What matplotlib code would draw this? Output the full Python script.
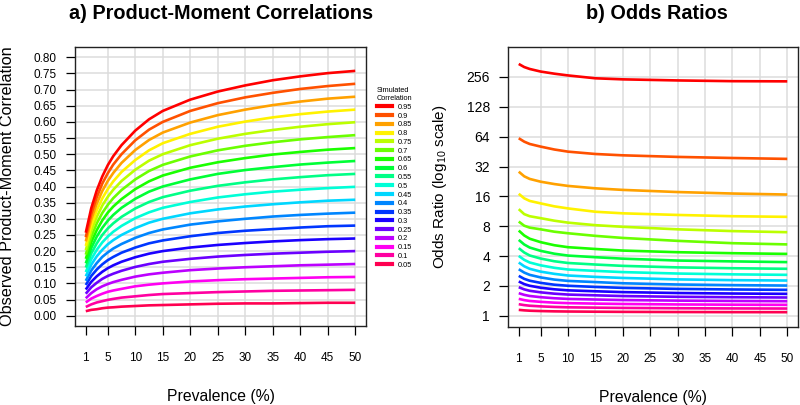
import matplotlib
matplotlib.use("Agg")
import matplotlib.pyplot as plt
from matplotlib.lines import Line2D
import colorsys

plt.rcParams['font.family'] = ['Liberation Sans', 'DejaVu Sans']
plt.rcParams['mathtext.fontset'] = 'custom'
plt.rcParams['mathtext.rm'] = 'Liberation Sans'
plt.rcParams['mathtext.default'] = 'regular'

# simulated (latent) correlations, top to bottom
sim_labels = ['0.95', '0.9', '0.85', '0.8', '0.75', '0.7', '0.65', '0.6', '0.55', '0.5',
              '0.45', '0.4', '0.35', '0.3', '0.25', '0.2', '0.15', '0.1', '0.05']

# panel a: observed product-moment correlation by prevalence
prev_r = [1, 2, 3, 4, 5, 6, 7.5, 10, 12.5, 15, 20, 25, 30, 35, 40, 45, 50]
obs_r = [
    [.257, .333, .388, .431, .466, .494, .528, .573, .608, .634, .669, .694, .713, .729, .741, .751, .758],
    [.243, .315, .367, .409, .441, .468, .500, .543, .576, .600, .634, .658, .676, .690, .702, .711, .718],
    [.230, .298, .347, .386, .417, .442, .473, .513, .544, .567, .598, .621, .638, .652, .663, .672, .678],
    [.216, .280, .326, .363, .392, .416, .445, .482, .512, .534, .563, .585, .601, .614, .624, .632, .638],
    [.203, .263, .306, .341, .368, .390, .417, .452, .480, .500, .528, .548, .563, .575, .585, .593, .599],
    [.189, .245, .286, .318, .343, .364, .389, .422, .448, .467, .493, .512, .526, .537, .546, .553, .559],
    [.176, .228, .265, .295, .319, .338, .361, .392, .416, .434, .458, .475, .488, .499, .507, .514, .519],
    [.162, .210, .245, .272, .294, .312, .334, .362, .384, .400, .422, .439, .451, .460, .468, .474, .479],
    [.149, .193, .224, .250, .270, .286, .306, .332, .352, .367, .387, .402, .413, .422, .429, .435, .439],
    [.135, .175, .204, .227, .245, .260, .278, .302, .320, .334, .352, .366, .376, .384, .390, .395, .399],
    [.122, .158, .184, .204, .221, .234, .250, .271, .288, .300, .317, .329, .338, .345, .351, .356, .359],
    [.108, .140, .163, .182, .196, .208, .222, .241, .256, .267, .282, .292, .300, .307, .312, .316, .319],
    [.095, .123, .143, .159, .172, .182, .195, .211, .224, .233, .246, .256, .263, .268, .273, .277, .279],
    [.081, .105, .122, .136, .147, .156, .167, .181, .192, .200, .211, .219, .225, .230, .234, .237, .239],
    [.068, .088, .102, .114, .123, .130, .139, .151, .160, .167, .176, .183, .188, .192, .195, .198, .200],
    [.054, .070, .082, .091, .098, .104, .111, .121, .128, .133, .141, .146, .150, .153, .156, .158, .160],
    [.041, .053, .061, .068, .074, .078, .083, .091, .096, .100, .106, .110, .113, .115, .117, .119, .120],
    [.027, .035, .041, .045, .049, .052, .056, .060, .064, .067, .070, .073, .075, .077, .078, .079, .080],
    [.014, .018, .020, .023, .025, .026, .028, .030, .032, .033, .035, .037, .038, .038, .039, .040, .040],
]

# panel b: odds ratios by prevalence
prev_or = [1, 2, 3, 5, 7.5, 10, 15, 20, 30, 40, 50]
odds = [
    [346, 322, 308, 290, 276, 265, 248, 242, 236, 232, 231],
    [61.7, 57, 54, 50.8, 47.5, 45.2, 42.8, 41.5, 40, 39, 38.2],
    [28.4, 25.5, 24, 22.5, 21.3, 20.4, 19.3, 18.6, 17.7, 17.1, 16.7],
    [17.0, 15.3, 14.4, 13.6, 12.7, 12.1, 11.2, 10.8, 10.4, 10.1, 9.95],
    [11.9, 10.6, 10.1, 9.65, 9.1, 8.7, 8.2, 7.9, 7.45, 7.15, 6.97],
    [8.92, 8.1, 7.75, 7.45, 7.05, 6.8, 6.4, 6.1, 5.7, 5.4, 5.25],
    [7.24, 6.46, 5.99, 5.53, 5.15, 4.92, 4.72, 4.55, 4.38, 4.28, 4.21],
    [5.83, 5.24, 4.88, 4.52, 4.23, 4.05, 3.90, 3.77, 3.61, 3.54, 3.48],
    [4.81, 4.35, 4.06, 3.78, 3.55, 3.41, 3.29, 3.19, 3.08, 3.02, 2.98],
    [4.02, 3.67, 3.45, 3.23, 3.05, 2.93, 2.84, 2.76, 2.67, 2.62, 2.59],
    [3.45, 3.16, 2.98, 2.79, 2.65, 2.55, 2.47, 2.41, 2.33, 2.29, 2.27],
    [2.95, 2.73, 2.59, 2.44, 2.32, 2.25, 2.19, 2.13, 2.07, 2.04, 2.02],
    [2.53, 2.36, 2.26, 2.15, 2.06, 2.01, 1.956, 1.914, 1.87, 1.845, 1.828],
    [2.22, 2.09, 2.01, 1.921, 1.852, 1.807, 1.769, 1.735, 1.699, 1.679, 1.666],
    [1.945, 1.849, 1.789, 1.726, 1.673, 1.639, 1.61, 1.583, 1.556, 1.541, 1.531],
    [1.692, 1.628, 1.586, 1.542, 1.505, 1.481, 1.461, 1.443, 1.424, 1.413, 1.405],
    [1.483, 1.441, 1.413, 1.384, 1.358, 1.343, 1.329, 1.317, 1.303, 1.296, 1.291],
    [1.31, 1.283, 1.265, 1.246, 1.23, 1.219, 1.21, 1.202, 1.193, 1.188, 1.185],
    [1.149, 1.136, 1.127, 1.118, 1.11, 1.106, 1.101, 1.097, 1.093, 1.09, 1.089],
]

x_ticks = [1, 5, 10, 15, 20, 25, 30, 35, 40, 45, 50]
r_ticks = [i * 0.05 for i in range(17)]
or_ticks = [1, 2, 4, 8, 16, 32, 64, 128, 256]

# R rainbow(19) colours
n = len(sim_labels)
colors = [colorsys.hsv_to_rgb(i / n, 1, 1) for i in range(n)]

fig = plt.figure(figsize=(8, 4.05), dpi=100)
ax1 = fig.add_axes([0.09375, 0.195, 0.36375, 0.689])
ax2 = fig.add_axes([0.635, 0.193, 0.3625, 0.691])

grid_col = '#dcdcdc'

# ---- panel a
for y in r_ticks:
    ax1.axhline(y, color=grid_col, lw=1.1, zorder=0)
for x in x_ticks[1:]:
    ax1.axvline(x, color=grid_col, lw=1.1, zorder=0)
for i in range(n - 1, -1, -1):
    ax1.plot(prev_r, obs_r[i], color=colors[i], lw=1.9, solid_capstyle='butt')
ax1.set_xlim(-0.96, 51.96)
ax1.set_ylim(-0.032, 0.832)
ax1.set_xticks(x_ticks)
ax1.set_yticks(r_ticks)
ax1.set_yticklabels(['%.2f' % v for v in r_ticks])
ax1.tick_params(axis='both', direction='out', length=6.5, width=0.9, labelsize=8.5)
ax1.tick_params(axis='x', pad=12)
ax1.tick_params(axis='y', pad=7)
ax1.set_xlabel('Prevalence (%)', fontsize=11.3, labelpad=18)
ax1.set_ylabel('Observed Product-Moment Correlation', fontsize=11.7, labelpad=13)

# ---- panel b
for y in or_ticks:
    ax2.axhline(y, color=grid_col, lw=1.1, zorder=0)
for x in x_ticks[1:]:
    ax2.axvline(x, color=grid_col, lw=1.1, zorder=0)
for i in range(n - 1, -1, -1):
    ax2.plot(prev_or, odds[i], color=colors[i], lw=1.9, solid_capstyle='butt')
ax2.set_yscale('log', base=2)
ax2.set_xlim(-0.96, 51.96)
ax2.set_ylim(0.775, 513)
ax2.set_xticks(x_ticks)
ax2.set_yticks(or_ticks)
ax2.set_yticklabels([str(v) for v in or_ticks])
ax2.minorticks_off()
ax2.tick_params(axis='both', direction='out', length=6.5, width=0.9, labelsize=8.5)
ax2.tick_params(axis='x', pad=12)
ax2.tick_params(axis='y', pad=6.5, labelsize=10)
ax2.set_xlabel('Prevalence (%)', fontsize=11.3, labelpad=18)
ax2.set_ylabel('Odds Ratio (log$_{10}$ scale)', fontsize=11, labelpad=13)

for ax in (ax1, ax2):
    for s in ax.spines.values():
        s.set_linewidth(1.0)
        s.set_color('#222222')

# titles
fig.text(0.276, 0.966, 'a) Product-Moment Correlations', ha='center', va='center',
         fontsize=14.3, fontweight='bold')
fig.text(0.821, 0.966, 'b) Odds Ratios', ha='center', va='center',
         fontsize=14.3, fontweight='bold')

# legend between panels
handles = [Line2D([], [], color=colors[i], lw=3) for i in range(n)]
leg = fig.legend(handles, sim_labels, title='Simulated\nCorrelation', loc='upper left',
                 bbox_to_anchor=(0.471, 0.785), frameon=False, fontsize=5.3,
                 title_fontsize=5.3, handlelength=2.1, handletextpad=0.8,
                 labelspacing=0.22, borderaxespad=0, borderpad=0)
leg._legend_box.align = 'left'

fig.savefig('out.png', dpi=100)
